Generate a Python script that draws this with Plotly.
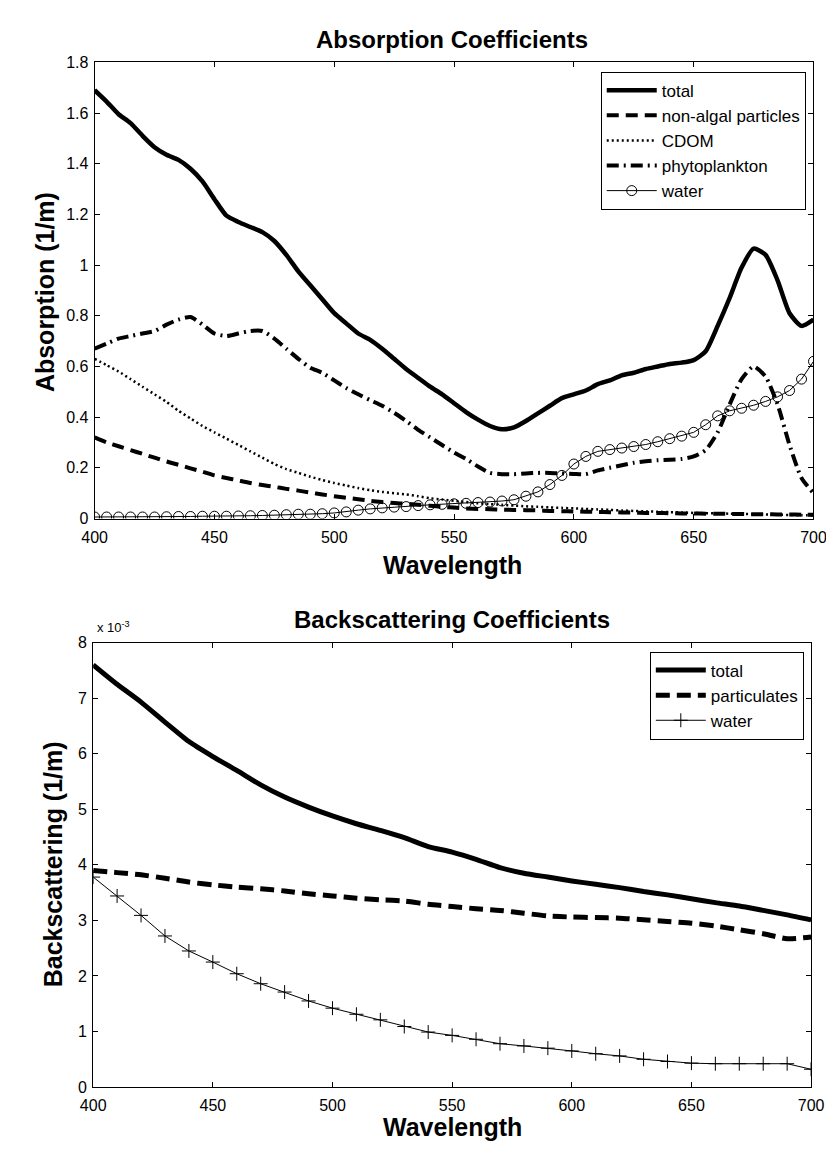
import plotly.graph_objects as go

# ---------------- data: absorption (1/m) ----------------
wl_abs = [400, 405, 410, 415, 420, 425, 430, 435, 440, 445, 450, 455, 460, 465, 470,
          475, 480, 485, 490, 495, 500, 505, 510, 515, 520, 525, 530, 535, 540, 545,
          550, 555, 560, 565, 570, 575, 580, 585, 590, 595, 600, 605, 610, 615, 620,
          625, 630, 635, 640, 645, 650, 655, 660, 665, 670, 675, 680, 685, 690, 695, 700]

a_total = [1.69, 1.645, 1.595, 1.56, 1.51, 1.465, 1.435, 1.415, 1.38, 1.33, 1.26, 1.195,
           1.17, 1.15, 1.13, 1.095, 1.04, 0.975, 0.92, 0.865, 0.81, 0.77, 0.73, 0.705,
           0.67, 0.63, 0.59, 0.555, 0.52, 0.49, 0.455, 0.42, 0.39, 0.365, 0.352, 0.36,
           0.385, 0.415, 0.445, 0.475, 0.49, 0.505, 0.53, 0.545, 0.565, 0.575, 0.59,
           0.60, 0.61, 0.615, 0.625, 0.66, 0.76, 0.87, 0.99, 1.065, 1.04, 0.94, 0.81,
           0.76, 0.785]

a_nap = [0.32, 0.30, 0.285, 0.27, 0.255, 0.24, 0.225, 0.212, 0.198, 0.185, 0.17, 0.16,
         0.15, 0.14, 0.132, 0.125, 0.117, 0.11, 0.102, 0.095, 0.088, 0.082, 0.076, 0.07,
         0.065, 0.061, 0.058, 0.054, 0.05, 0.046, 0.043, 0.04, 0.038, 0.037, 0.035,
         0.034, 0.033, 0.032, 0.03, 0.029, 0.028, 0.027, 0.026, 0.025, 0.024, 0.023,
         0.022, 0.022, 0.021, 0.02, 0.02, 0.019, 0.019, 0.018, 0.018, 0.017, 0.017,
         0.016, 0.016, 0.015, 0.015]

a_cdom = [0.63, 0.605, 0.58, 0.55, 0.52, 0.49, 0.46, 0.425, 0.395, 0.365, 0.34, 0.315,
          0.29, 0.265, 0.24, 0.215, 0.195, 0.18, 0.165, 0.152, 0.14, 0.13, 0.12, 0.112,
          0.105, 0.1, 0.095, 0.088, 0.08, 0.075, 0.07, 0.065, 0.06, 0.057, 0.054, 0.051,
          0.048, 0.046, 0.044, 0.042, 0.04, 0.038, 0.036, 0.034, 0.032, 0.03, 0.028,
          0.027, 0.025, 0.024, 0.022, 0.021, 0.02, 0.019, 0.018, 0.017, 0.016, 0.015,
          0.014, 0.013, 0.012]

a_phyto = [0.67, 0.69, 0.71, 0.72, 0.73, 0.74, 0.765, 0.785, 0.795, 0.765, 0.73, 0.72,
           0.73, 0.74, 0.74, 0.71, 0.67, 0.63, 0.595, 0.575, 0.545, 0.515, 0.49, 0.467,
           0.445, 0.417, 0.385, 0.35, 0.32, 0.29, 0.26, 0.235, 0.205, 0.18, 0.175, 0.175,
           0.178, 0.18, 0.18, 0.178, 0.176, 0.175, 0.19, 0.20, 0.21, 0.22, 0.226, 0.23,
           0.232, 0.235, 0.245, 0.27, 0.34, 0.45, 0.55, 0.60, 0.56, 0.45, 0.29, 0.16, 0.10]

a_water = [0.006, 0.006, 0.006, 0.006, 0.006, 0.006, 0.007, 0.008, 0.008, 0.009, 0.009,
           0.009, 0.010, 0.011, 0.012, 0.013, 0.015, 0.017, 0.017, 0.019, 0.022, 0.026,
           0.033, 0.038, 0.042, 0.045, 0.047, 0.051, 0.054, 0.056, 0.058, 0.060, 0.063,
           0.065, 0.069, 0.074, 0.088, 0.105, 0.134, 0.17, 0.215, 0.245, 0.265, 0.272,
           0.278, 0.284, 0.292, 0.303, 0.315, 0.325, 0.34, 0.37, 0.405, 0.425, 0.435,
           0.447, 0.462, 0.48, 0.505, 0.55, 0.62]

# ---------------- data: backscattering (1/m) ----------------
wl_bb = [400, 410, 420, 430, 440, 450, 460, 470, 480, 490, 500, 510, 520, 530, 540, 550,
         560, 570, 580, 590, 600, 610, 620, 630, 640, 650, 660, 670, 680, 690, 700]

bb_total = [7.60e-3, 7.25e-3, 6.93e-3, 6.57e-3, 6.22e-3, 5.95e-3, 5.70e-3, 5.44e-3,
            5.22e-3, 5.04e-3, 4.88e-3, 4.74e-3, 4.62e-3, 4.49e-3, 4.33e-3, 4.23e-3,
            4.10e-3, 3.95e-3, 3.85e-3, 3.78e-3, 3.71e-3, 3.65e-3, 3.59e-3, 3.52e-3,
            3.46e-3, 3.39e-3, 3.32e-3, 3.26e-3, 3.18e-3, 3.10e-3, 3.01e-3]

bb_part = [3.90e-3, 3.86e-3, 3.82e-3, 3.76e-3, 3.69e-3, 3.64e-3, 3.60e-3, 3.57e-3,
           3.53e-3, 3.48e-3, 3.44e-3, 3.40e-3, 3.37e-3, 3.35e-3, 3.29e-3, 3.25e-3,
           3.21e-3, 3.18e-3, 3.13e-3, 3.08e-3, 3.06e-3, 3.05e-3, 3.04e-3, 3.01e-3,
           2.98e-3, 2.95e-3, 2.90e-3, 2.83e-3, 2.76e-3, 2.67e-3, 2.70e-3]

bb_water = [3.78e-3, 3.44e-3, 3.09e-3, 2.72e-3, 2.45e-3, 2.25e-3, 2.04e-3, 1.86e-3,
            1.71e-3, 1.55e-3, 1.42e-3, 1.31e-3, 1.21e-3, 1.09e-3, 0.99e-3, 0.93e-3,
            0.86e-3, 0.78e-3, 0.74e-3, 0.70e-3, 0.65e-3, 0.60e-3, 0.56e-3, 0.50e-3,
            0.46e-3, 0.43e-3, 0.42e-3, 0.42e-3, 0.42e-3, 0.42e-3, 0.32e-3]

x_ticks = [400, 450, 500, 550, 600, 650, 700]
abs_ticks = [0, 0.2, 0.4, 0.6, 0.8, 1, 1.2, 1.4, 1.6, 1.8]
abs_ticktext = ["0", "0.2", "0.4", "0.6", "0.8", "1", "1.2", "1.4", "1.6", "1.8"]
bb_ticks = [0, 1e-3, 2e-3, 3e-3, 4e-3, 5e-3, 6e-3, 7e-3, 8e-3]
bb_ticktext = ["0", "1", "2", "3", "4", "5", "6", "7", "8"]

FONT = "Liberation Sans, Arial, sans-serif"
W, H = 834, 1158

fig = go.Figure()

# top panel traces
fig.add_trace(go.Scatter(x=wl_abs, y=a_total, name="total", mode="lines",
                         line=dict(color="black", width=4.5, shape="spline", smoothing=0.6),
                         legend="legend", xaxis="x", yaxis="y"))
fig.add_trace(go.Scatter(x=wl_abs, y=a_nap, name="non-algal particles", mode="lines",
                         line=dict(color="black", width=4, dash="12px,7px",
                                   shape="spline", smoothing=0.6),
                         legend="legend", xaxis="x", yaxis="y"))
fig.add_trace(go.Scatter(x=wl_abs, y=a_cdom, name="CDOM", mode="lines",
                         line=dict(color="black", width=2.5, dash="2px,3px",
                                   shape="spline", smoothing=0.6),
                         legend="legend", xaxis="x", yaxis="y"))
fig.add_trace(go.Scatter(x=wl_abs, y=a_phyto, name="phytoplankton", mode="lines",
                         line=dict(color="black", width=4, dash="12px,5px,2px,5px",
                                   shape="spline", smoothing=0.6),
                         legend="legend", xaxis="x", yaxis="y"))
fig.add_trace(go.Scatter(x=wl_abs, y=a_water, name="water", mode="lines+markers",
                         line=dict(color="black", width=1),
                         marker=dict(symbol="circle-open", size=10, color="black",
                                     line=dict(width=1, color="black")),
                         legend="legend", xaxis="x", yaxis="y"))

# bottom panel traces
fig.add_trace(go.Scatter(x=wl_bb, y=bb_total, name="total", mode="lines",
                         line=dict(color="black", width=5, shape="spline", smoothing=0.6),
                         legend="legend2", xaxis="x2", yaxis="y2"))
fig.add_trace(go.Scatter(x=wl_bb, y=bb_part, name="particulates", mode="lines",
                         line=dict(color="black", width=5, dash="14px,7px",
                                   shape="spline", smoothing=0.6),
                         legend="legend2", xaxis="x2", yaxis="y2"))
fig.add_trace(go.Scatter(x=wl_bb, y=bb_water, name="water", mode="lines+markers",
                         line=dict(color="black", width=1),
                         marker=dict(symbol="cross-thin", size=10, color="black",
                                     line=dict(width=1, color="black")),
                         legend="legend2", xaxis="x2", yaxis="y2"))

axis_common = dict(showline=True, linecolor="black", linewidth=1, mirror="ticks",
                   ticks="inside", ticklen=5, tickcolor="black", showgrid=False,
                   zeroline=False, tickfont=dict(family=FONT, size=16, color="black"))

x1_dom = [76 / W, 818 / W]
x2_dom = [74.5 / W, 815.5 / W]
y1_dom = [1 - 510 / H, 1 - 47 / H]
y2_dom = [1 - 1087 / H, 1 - 636 / H]

fig.update_layout(
    width=W, height=H,
    margin=dict(l=0, r=0, t=0, b=0),
    paper_bgcolor="white", plot_bgcolor="white",
    showlegend=True,
    xaxis=dict(domain=x1_dom, range=[400, 700], tickvals=x_ticks, anchor="y",
               ticklabelstandoff=4, **axis_common),
    yaxis=dict(domain=y1_dom, range=[0, 1.8], tickvals=abs_ticks, ticktext=abs_ticktext,
               anchor="x", ticklabelstandoff=2, **axis_common),
    xaxis2=dict(domain=x2_dom, range=[400, 700], tickvals=x_ticks, anchor="y2",
                ticklabelstandoff=4, **axis_common),
    yaxis2=dict(domain=y2_dom, range=[0, 8e-3], tickvals=bb_ticks, ticktext=bb_ticktext,
                anchor="x2", ticklabelstandoff=2, **axis_common),
    legend=dict(x=810 / W, y=1 - 56.5 / H, xanchor="right", yanchor="top",
                bgcolor="white", bordercolor="black", borderwidth=1,
                font=dict(family=FONT, size=17, color="black"),
                itemwidth=50, tracegroupgap=0),
    legend2=dict(x=808 / W, y=1 - 645 / H, xanchor="right", yanchor="top",
                 bgcolor="white", bordercolor="black", borderwidth=1,
                 font=dict(family=FONT, size=17, color="black"),
                 itemwidth=50, tracegroupgap=0),
)

title_font = dict(family=FONT, size=24, color="black")
label_font = dict(family=FONT, size=25, color="black")

annotations = [
    dict(text="<b>Absorption Coefficients</b>", x=445 / W, y=1 - 24 / H, xref="paper",
         yref="paper", showarrow=False, font=title_font, xanchor="center", yanchor="middle"),
    dict(text="<b>Wavelength</b>", x=445 / W, y=1 - 557 / H, xref="paper", yref="paper",
         showarrow=False, font=label_font, xanchor="center", yanchor="middle"),
    dict(text="<b>Absorption (1/m)</b>", x=25 / W, y=1 - 280 / H, xref="paper",
         yref="paper", showarrow=False, font=label_font, textangle=-90,
         xanchor="center", yanchor="middle"),
    dict(text="<b>Backscattering Coefficients</b>", x=445 / W, y=1 - 612 / H,
         xref="paper", yref="paper", showarrow=False, font=title_font,
         xanchor="center", yanchor="middle"),
    dict(text="x 10<sup>-3</sup>", x=76 / W, y=1 - 630 / H, xref="paper", yref="paper",
         showarrow=False, font=dict(family=FONT, size=13, color="black"),
         xanchor="left", yanchor="bottom"),
    dict(text="<b>Wavelength</b>", x=445 / W, y=1 - 1128 / H, xref="paper", yref="paper",
         showarrow=False, font=label_font, xanchor="center", yanchor="middle"),
    dict(text="<b>Backscattering (1/m)</b>", x=33 / W, y=1 - 861 / H, xref="paper",
         yref="paper", showarrow=False, font=label_font, textangle=-90,
         xanchor="center", yanchor="middle"),
]
fig.update_layout(annotations=annotations)

fig.write_html("out.html")
